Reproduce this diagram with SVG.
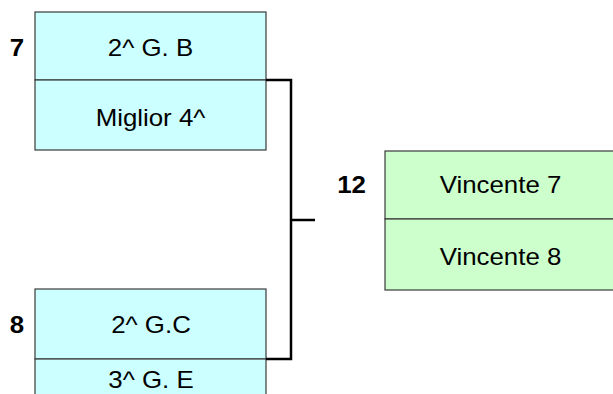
<svg xmlns="http://www.w3.org/2000/svg" width="613" height="394" viewBox="0 0 613 394">
<style>
.c{fill:#CCFFFF;stroke:#3a3a3a;stroke-width:1.2}
.g{fill:#CCFFCC;stroke:#3a3a3a;stroke-width:1.2}
.t{font-family:"Liberation Sans",Arial,sans-serif;font-size:23.5px;fill:#000;text-anchor:middle}
.n{font-family:"Liberation Sans",Arial,sans-serif;font-size:23.5px;font-weight:bold;fill:#000;text-anchor:end}
.w{fill:none;stroke:#000;stroke-width:2.5}
</style>
<rect width="613" height="394" fill="#fff"/>
<g id="node7">
<rect class="c" x="35" y="12" width="231" height="68"/>
<rect class="c" x="35" y="80" width="231" height="70"/>
<text class="t" transform="translate(150.5 56) scale(1.1 1)">2^ G. B</text>
<text class="t" transform="translate(150.5 126) scale(1.1 1)">Miglior 4^</text>
<text class="n" transform="translate(24 56) scale(1.1 1)">7</text>
</g>
<g id="node8">
<rect class="c" x="35" y="289" width="231" height="70"/>
<rect class="c" x="35" y="359" width="231" height="50"/>
<text class="t" transform="translate(151 333) scale(1.1 1)">2^ G.C</text>
<text class="t" transform="translate(151 388) scale(1.1 1)">3^ G. E</text>
<text class="n" transform="translate(24 333) scale(1.1 1)">8</text>
</g>
<g id="node12">
<rect class="g" x="385" y="151" width="240" height="68"/>
<rect class="g" x="385" y="219" width="240" height="71"/>
<text class="t" transform="translate(500.5 193) scale(1.1 1)">Vincente 7</text>
<text class="t" transform="translate(500.5 265) scale(1.1 1)">Vincente 8</text>
<text class="n" transform="translate(366 193) scale(1.1 1)">12</text>
</g>
<g id="connectors">
<polyline class="w" points="266,80 291,80 291,359 266,359"/>
<line class="w" x1="291" y1="220" x2="315" y2="220"/>
</g>
</svg>
